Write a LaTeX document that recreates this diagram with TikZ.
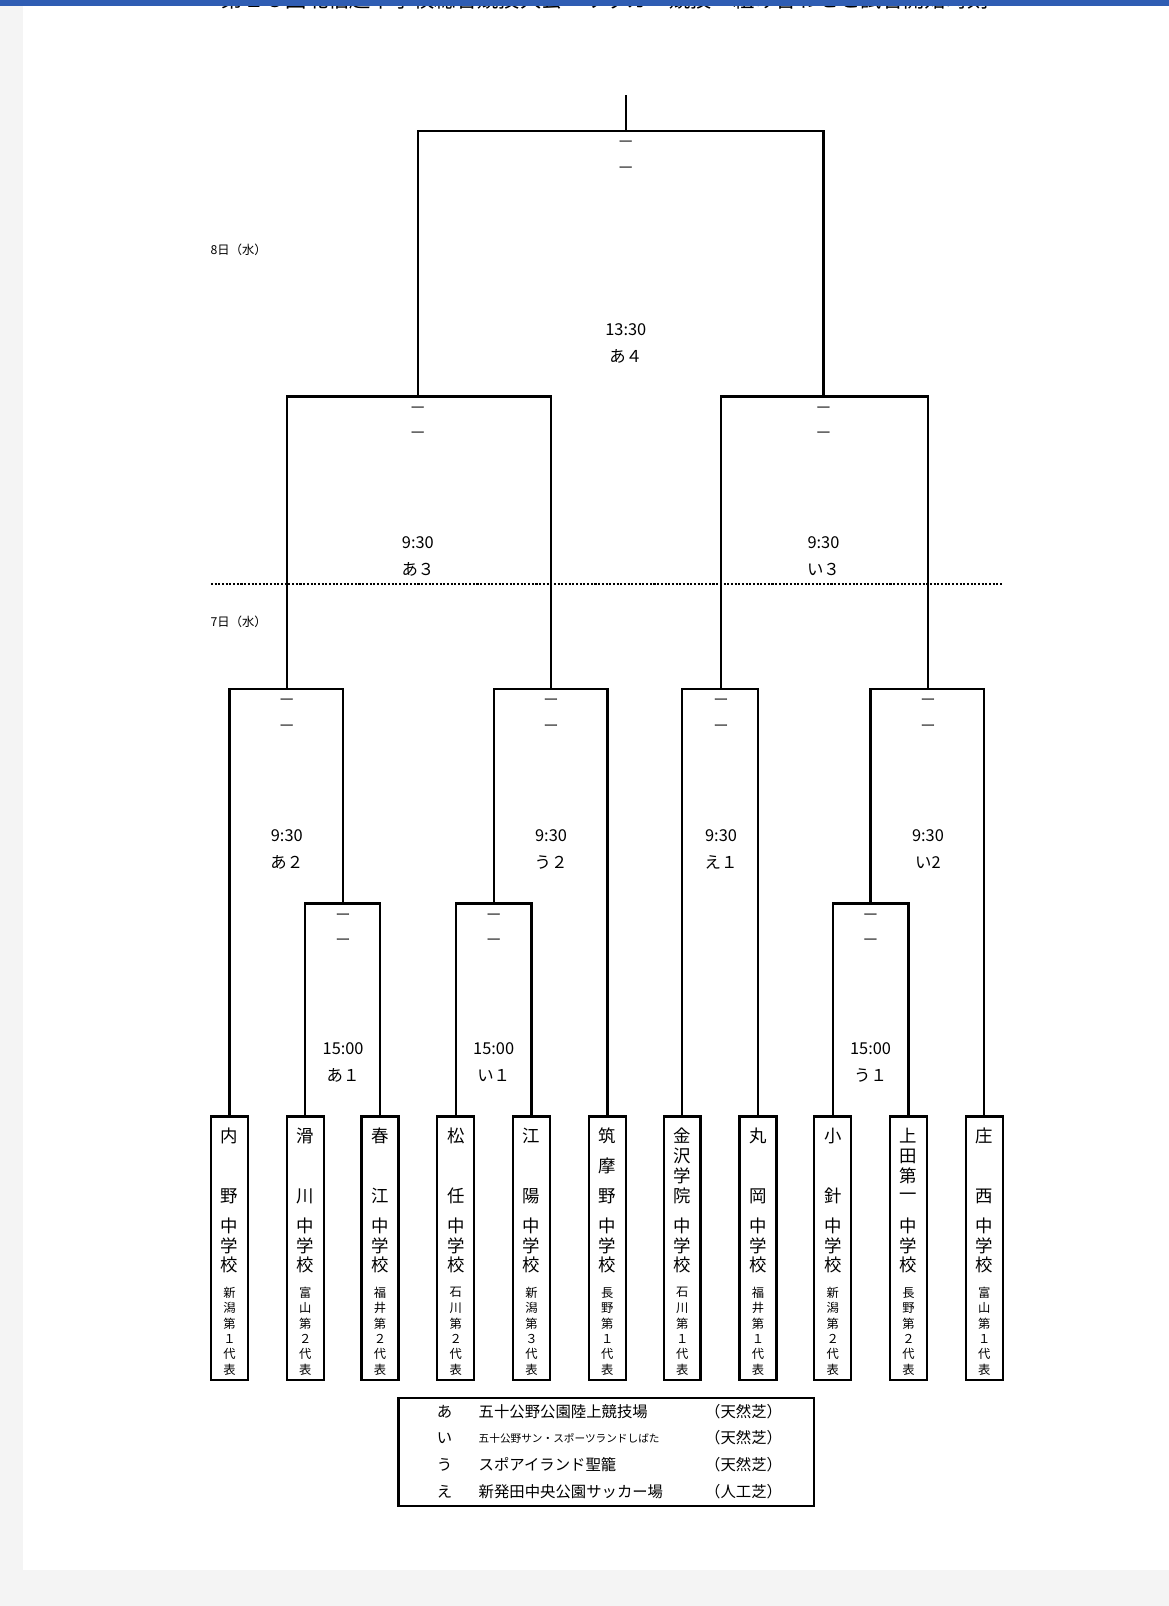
\documentclass[tikz,border=0pt]{standalone}
\usepackage{fontspec}
\setmainfont{Noto Sans CJK JP}
\usepackage{tikz}
\usetikzlibrary{positioning,calc}
\definecolor{pagegrey}{HTML}{F4F4F4}
\definecolor{barblue}{HTML}{2F5DB3}
\definecolor{dashgrey}{HTML}{404040}

\newcommand\matchlabels[4]{%
  \path (#1) ++(0,13) node[scoremark] (#1-s1) {ー}
    ++(0,25) node[scoremark] (#1-s2) {ー}
    ++(0,#4) node[timelabel] (#1-time) {#2}
    ++(0,26) node[timelabel] (#1-venue) {#3};}

\begin{document}
\begin{tikzpicture}[x=0.5pt,y=-0.5pt,
  bracket/.style={line width=1.1pt},
  teambox/.style={draw,line width=1.1pt,minimum width=18pt,minimum height=128.5pt,inner sep=0pt},
  bigch/.style={inner sep=0pt,font=\fontsize{8.5}{8.5}\selectfont},
  smallch/.style={inner sep=0pt,font=\fontsize{6}{6}\selectfont},
  scoremark/.style={inner sep=0pt,text=dashgrey,font=\fontsize{7.5}{7.5}\selectfont},
  timelabel/.style={inner sep=0pt,font=\fontsize{8}{8}\selectfont},
  daylabel/.style={inner sep=0pt,font=\fontsize{6}{6}\selectfont},
  dayline/.style={line width=0.8pt,dash pattern=on 1pt off 0.8pt},
  legendbox/.style={draw,line width=1.1pt,minimum width=203pt,minimum height=52.5pt,inner sep=0pt},
  legendtext/.style={inner sep=0pt,font=\fontsize{7.5}{7.5}\selectfont},
  legendsmall/.style={inner sep=0pt,font=\fontsize{5.2}{5.2}\selectfont},
  titletext/.style={inner sep=0pt,font=\fontsize{10.4}{10.4}\selectfont}]

\fill[pagegrey] (0,0) rectangle (1141,1568);
\fill[white] (22,0) rectangle (1141,1533);
\useasboundingbox (0,0) rectangle (1141,1568);
\node[titletext,anchor=base] (title) at (591,7) {第１８回北信越中学校総合競技大会　サッカー競技　組み合わせと試合開始時刻};
\fill[barblue] (0,0) rectangle (1141,6);

\foreach \x/\n/\nm/\pa/\pb/\num [count=\i] in {
  224/2/{内,野}/新/潟/１,
  298/2/{滑,川}/富/山/２,
  371/2/{春,江}/福/井/２,
  445/2/{松,任}/石/川/２,
  519/2/{江,陽}/新/潟/３,
  593/3/{筑,摩,野}/長/野/１,
  666/4/{金,沢,学,院}/石/川/１,
  740/2/{丸,岡}/福/井/１,
  813/2/{小,針}/新/潟/２,
  887/4/{上,田,第,一}/長/野/２,
  961/2/{庄,西}/富/山/１}
{
  \node[teambox] (t\i) at (\x,1218.5) {};
  \foreach \c [count=\k] in \nm
    \node[bigch] (t\i-n\k) at (\x,{1109+(\k-1)*59/(\n-1)}) {\c};
  \foreach \c [count=\k] in {中,学,校}
    \node[bigch] (t\i-s\k) at (\x,{1197+(\k-1)*19}) {\c};
  \foreach \c [count=\k] in {\pa,\pb,第,\num,代,表}
    \node[smallch] (t\i-r\k) at (\x,{1262+(\k-1)*15}) {\c};
}

\coordinate (top) at (611,93);
\coordinate (a4) at (611,128);
\coordinate (a3) at (408,387);
\coordinate (i3) at (804,387);
\coordinate (a2) at (280,673);
\coordinate (u2) at (538,673);
\coordinate (e1) at (704,673);
\coordinate (i2) at (906,673);
\coordinate (a1) at (335,882);
\coordinate (i1) at (482,882);
\coordinate (u1) at (850,882);

\draw[bracket] (t2.north) |- (a1) -| (t3.north);
\draw[bracket] (t4.north) |- (i1) -| (t5.north);
\draw[bracket] (t9.north) |- (u1) -| (t10.north);
\draw[bracket] (t1.north) |- (a2) -| (a1);
\draw[bracket] (i1) |- (u2) -| (t6.north);
\draw[bracket] (t7.north) |- (e1) -| (t8.north);
\draw[bracket] (u1) |- (i2) -| (t11.north);
\draw[bracket] (a2) |- (a3) -| (u2);
\draw[bracket] (e1) |- (i3) -| (i2);
\draw[bracket] (a3) |- (a4) -| (i3);
\draw[bracket] (a4) -- (top);

\matchlabels{a4}{13:30}{あ４}{156}
\matchlabels{a3}{9:30}{あ３}{105}
\matchlabels{i3}{9:30}{い３}{105}
\matchlabels{a2}{9:30}{あ２}{105}
\matchlabels{u2}{9:30}{う２}{105}
\matchlabels{e1}{9:30}{え１}{105}
\matchlabels{i2}{9:30}{い2}{105}
\matchlabels{a1}{15:00}{あ１}{104}
\matchlabels{i1}{15:00}{い１}{104}
\matchlabels{u1}{15:00}{う１}{104}

\node[daylabel] (day8) at (233,244) {8日（水）};
\node[daylabel] (day7) at (233,607) {7日（水）};
\draw[dayline] (206,570) -- (979,570);

\node[legendbox] (legend) at (592,1417.5) {};
\foreach \y/\lt/\vn/\vs/\tf [count=\k] in {
  1378/あ/五十公野公園陸上競技場/legendtext/天然芝,
  1404/い/五十公野サン・スポーツランドしばた/legendsmall/天然芝,
  1430/う/スポアイランド聖籠/legendtext/天然芝,
  1456/え/新発田中央公園サッカー場/legendtext/人工芝}
{
  \node[legendtext] (leg\k-key) at (434,\y) {\lt};
  \node[\vs,anchor=west] (leg\k-name) at (467,\y) {\vn};
  \node[legendtext] (leg\k-turf) at (726,\y) {（\tf）};
}
\end{tikzpicture}
\end{document}
